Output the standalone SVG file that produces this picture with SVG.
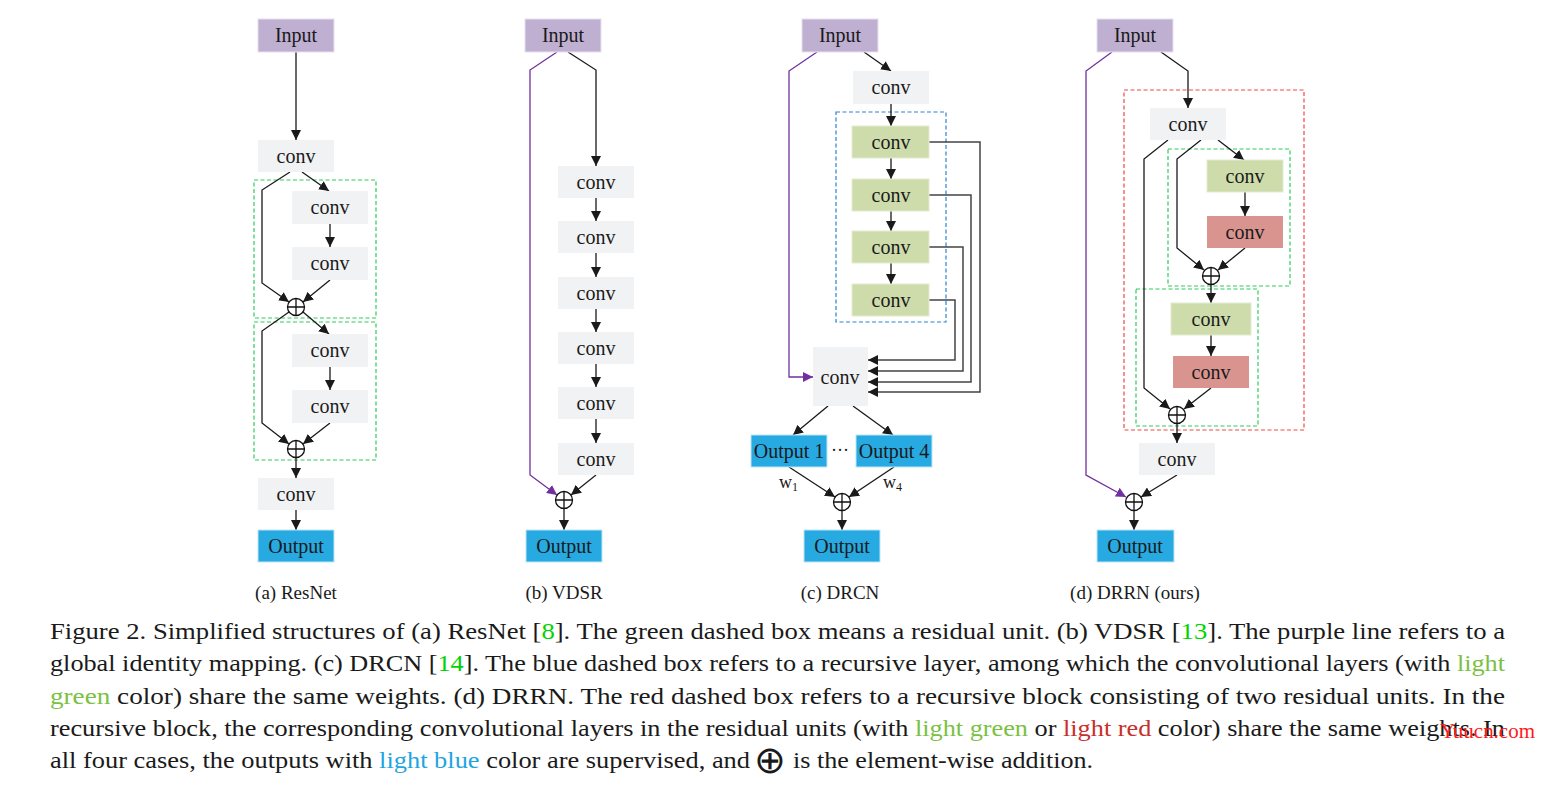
<svg xmlns="http://www.w3.org/2000/svg" width="1548" height="788" viewBox="0 0 1548 788">
<defs>
<marker id="ah" markerWidth="10" markerHeight="10" refX="10" refY="5" orient="auto" markerUnits="userSpaceOnUse"><path d="M0,0 L10,5 L0,10 z" fill="#1a1a1a"/></marker>
<marker id="ahp" markerWidth="10" markerHeight="10" refX="10" refY="5" orient="auto" markerUnits="userSpaceOnUse"><path d="M0,0 L10,5 L0,10 z" fill="#7030a0"/></marker>
</defs>
<style>
text{font-family:"Liberation Serif","Times New Roman",serif;fill:#1a1a1a}
.lbl{font-size:20px;text-anchor:middle}
.cv{font-size:20px;text-anchor:middle}
.in{fill:#bfafd0;stroke:#e6e0ee;stroke-width:1}
.gr{fill:#f1f2f3}
.gn{fill:#cddcaa;stroke:#e3ecd0;stroke-width:1}
.rd{fill:#d9948f}
.out{fill:#27a9e1;stroke:#bfe6f7;stroke-width:1}
.gd{fill:none;stroke:#2fcc5c;stroke-width:1.2;stroke-dasharray:4 2.5}
.bd{fill:none;stroke:#2a84d2;stroke-width:1.2;stroke-dasharray:4 2.5}
.rdd{fill:none;stroke:#f04848;stroke-width:1.2;stroke-dasharray:4 2.5}
.c{fill:none;stroke:#1a1a1a;stroke-width:1.3;marker-end:url(#ah)}
.fb{fill:none;stroke:#444;stroke-width:1.5;marker-end:url(#ah)}
.pp{fill:none;stroke:#7030a0;stroke-width:1.3;marker-end:url(#ahp)}
.pl circle{fill:#fff;stroke:#111;stroke-width:1.3}
.pl path{stroke:#111;stroke-width:1.3}
.cap{font-size:19px;text-anchor:middle}
.tx{font-size:24px}
.cite{fill:#00d400}
.lg{fill:#7ac143}
.lr{fill:#c8302c}
.lb{fill:#1ea5e0}
</style>
<rect width="1548" height="788" fill="#fff"/>

<!-- containers -->
<g id="boxes">
<rect class="gd" x="254" y="180" width="122" height="138"/>
<rect class="gd" x="254" y="322" width="122" height="138"/>
<rect class="bd" x="836" y="112" width="110" height="210"/>
<rect class="rdd" x="1124" y="90" width="180" height="340"/>
<rect class="gd" x="1168" y="149" width="122" height="137"/>
<rect class="gd" x="1136" y="289" width="122" height="137"/>
</g>

<!-- connectors -->
<g id="connectors">
<!-- (a) -->
<path class="c" d="M296,52 V140"/>
<path class="c" d="M290,172 L262,190 V283 L289,302"/>
<path class="c" d="M302,172 L329,191"/>
<path class="c" d="M330,224 V247"/>
<path class="c" d="M330,280 L303,302"/>
<path class="c" d="M289,312 L262,331 V423 L289,444"/>
<path class="c" d="M303,312 L329,334"/>
<path class="c" d="M330,367 V390"/>
<path class="c" d="M330,423 L303,444"/>
<path class="c" d="M296,457.5 V478"/>
<path class="c" d="M296,510 V530"/>
<!-- (b) -->
<path class="pp" d="M557,52 L530,70 V475 L557,495"/>
<path class="c" d="M568,52 L596,70 V166"/>
<path class="c" d="M596,198 V221"/>
<path class="c" d="M596,253 V277"/>
<path class="c" d="M596,309 V332"/>
<path class="c" d="M596,364 V387"/>
<path class="c" d="M596,419 V443"/>
<path class="c" d="M596,475 L571,495"/>
<path class="c" d="M564,508.5 V530"/>
<!-- (c) -->
<path class="pp" d="M817,52 L789,71 V377 H813"/>
<path class="c" d="M864,52 L891,71"/>
<path class="c" d="M891,104 V126"/>
<path class="c" d="M891,158 V179"/>
<path class="c" d="M891,211 V231"/>
<path class="c" d="M891,263 V284"/>
<path class="fb" d="M929,142 H980 V392 H868"/>
<path class="fb" d="M929,195 H971 V382 H868"/>
<path class="fb" d="M929,247 H963 V371 H868"/>
<path class="fb" d="M929,300 H955 V360 H868"/>
<path class="c" d="M828,406 L793,435"/>
<path class="c" d="M853,406 L893,435"/>
<path class="c" d="M789,467 L835,497"/>
<path class="c" d="M894,467 L849,497"/>
<path class="c" d="M842,510.5 V530"/>
<!-- (d) -->
<path class="pp" d="M1112,52 L1086,71 V475 L1126,497"/>
<path class="c" d="M1161,52 L1188,71 V108"/>
<path class="c" d="M1168,140 L1144,159 V388 L1170,409"/>
<path class="c" d="M1201,140 L1177,159 V248 L1204,270"/>
<path class="c" d="M1218,140 L1244,160"/>
<path class="c" d="M1245,192 V216"/>
<path class="c" d="M1245,248 L1218,270"/>
<path class="c" d="M1211,284.5 V303"/>
<path class="c" d="M1211,335 V356"/>
<path class="c" d="M1211,388 L1184,409"/>
<path class="c" d="M1177,423.5 V443"/>
<path class="c" d="M1177,475 L1141,497"/>
<path class="c" d="M1134,510.5 V530"/>
</g>

<!-- (a) ResNet nodes -->
<g id="a-input"><rect class="in" x="258" y="19" width="76" height="33"/><text class="lbl" x="296" y="42">Input</text></g>
<g id="a-conv1"><rect class="gr" x="258" y="140" width="76" height="32"/><text class="cv" x="296" y="163">conv</text></g>
<g id="a-conv2"><rect class="gr" x="292" y="191" width="76" height="33"/><text class="cv" x="330" y="214">conv</text></g>
<g id="a-conv3"><rect class="gr" x="292" y="247" width="76" height="33"/><text class="cv" x="330" y="270">conv</text></g>
<g id="a-plus1" class="pl"><circle cx="296" cy="307" r="8.5"/><path d="M287.5,307 H304.5 M296,298.5 V315.5"/></g>
<g id="a-conv4"><rect class="gr" x="292" y="334" width="76" height="33"/><text class="cv" x="330" y="357">conv</text></g>
<g id="a-conv5"><rect class="gr" x="292" y="390" width="76" height="33"/><text class="cv" x="330" y="413">conv</text></g>
<g id="a-plus2" class="pl"><circle cx="296" cy="449" r="8.5"/><path d="M287.5,449 H304.5 M296,440.5 V457.5"/></g>
<g id="a-conv6"><rect class="gr" x="258" y="478" width="76" height="32"/><text class="cv" x="296" y="501">conv</text></g>
<g id="a-output"><rect class="out" x="258" y="530" width="76" height="32"/><text class="lbl" x="296" y="553">Output</text></g>

<!-- (b) VDSR nodes -->
<g id="b-input"><rect class="in" x="525" y="19" width="76" height="33"/><text class="lbl" x="563" y="42">Input</text></g>
<g id="b-conv1"><rect class="gr" x="558" y="166" width="76" height="32"/><text class="cv" x="596" y="189">conv</text></g>
<g id="b-conv2"><rect class="gr" x="558" y="221" width="76" height="32"/><text class="cv" x="596" y="244">conv</text></g>
<g id="b-conv3"><rect class="gr" x="558" y="277" width="76" height="32"/><text class="cv" x="596" y="300">conv</text></g>
<g id="b-conv4"><rect class="gr" x="558" y="332" width="76" height="32"/><text class="cv" x="596" y="355">conv</text></g>
<g id="b-conv5"><rect class="gr" x="558" y="387" width="76" height="32"/><text class="cv" x="596" y="410">conv</text></g>
<g id="b-conv6"><rect class="gr" x="558" y="443" width="76" height="32"/><text class="cv" x="596" y="466">conv</text></g>
<g id="b-plus" class="pl"><circle cx="564" cy="500" r="8.5"/><path d="M555.5,500 H572.5 M564,491.5 V508.5"/></g>
<g id="b-output"><rect class="out" x="526" y="530" width="76" height="32"/><text class="lbl" x="564" y="553">Output</text></g>

<!-- (c) DRCN nodes -->
<g id="c-input"><rect class="in" x="802" y="19" width="76" height="33"/><text class="lbl" x="840" y="42">Input</text></g>
<g id="c-conv0"><rect class="gr" x="853" y="71" width="76" height="33"/><text class="cv" x="891" y="94">conv</text></g>
<g id="c-conv1"><rect class="gn" x="852" y="126" width="77" height="32"/><text class="cv" x="891" y="149">conv</text></g>
<g id="c-conv2"><rect class="gn" x="852" y="179" width="77" height="32"/><text class="cv" x="891" y="202">conv</text></g>
<g id="c-conv3"><rect class="gn" x="852" y="231" width="77" height="32"/><text class="cv" x="891" y="254">conv</text></g>
<g id="c-conv4"><rect class="gn" x="852" y="284" width="77" height="32"/><text class="cv" x="891" y="307">conv</text></g>
<g id="c-convr"><rect class="gr" x="813" y="347" width="55" height="59"/><text class="cv" x="840" y="384">conv</text></g>
<g id="c-out1"><rect class="out" x="751" y="435" width="76" height="32"/><text class="lbl" x="789" y="458">Output 1</text></g>
<g id="c-dots"><text class="lbl" x="840" y="456" style="font-size:18px">···</text></g>
<g id="c-out4"><rect class="out" x="856" y="435" width="76" height="32"/><text class="lbl" x="894" y="458">Output 4</text></g>
<g id="c-w1"><text x="779" y="488" style="font-size:18px">w<tspan dy="3" style="font-size:12px">1</tspan></text></g>
<g id="c-w4"><text x="883" y="488" style="font-size:18px">w<tspan dy="3" style="font-size:12px">4</tspan></text></g>
<g id="c-plus" class="pl"><circle cx="842" cy="502" r="8.5"/><path d="M833.5,502 H850.5 M842,493.5 V510.5"/></g>
<g id="c-output"><rect class="out" x="804" y="530" width="76" height="32"/><text class="lbl" x="842" y="553">Output</text></g>

<!-- (d) DRRN nodes -->
<g id="d-input"><rect class="in" x="1097" y="19" width="76" height="33"/><text class="lbl" x="1135" y="42">Input</text></g>
<g id="d-conv0"><rect class="gr" x="1150" y="108" width="76" height="32"/><text class="cv" x="1188" y="131">conv</text></g>
<g id="d-conv1"><rect class="gn" x="1207" y="160" width="76" height="32"/><text class="cv" x="1245" y="183">conv</text></g>
<g id="d-conv2"><rect class="rd" x="1207" y="216" width="76" height="32"/><text class="cv" x="1245" y="239">conv</text></g>
<g id="d-plus1" class="pl"><circle cx="1211" cy="276" r="8.5"/><path d="M1202.5,276 H1219.5 M1211,267.5 V284.5"/></g>
<g id="d-conv3"><rect class="gn" x="1171" y="303" width="80" height="32"/><text class="cv" x="1211" y="326">conv</text></g>
<g id="d-conv4"><rect class="rd" x="1173" y="356" width="76" height="32"/><text class="cv" x="1211" y="379">conv</text></g>
<g id="d-plus2" class="pl"><circle cx="1177" cy="415" r="8.5"/><path d="M1168.5,415 H1185.5 M1177,406.5 V423.5"/></g>
<g id="d-conv5"><rect class="gr" x="1139" y="443" width="76" height="32"/><text class="cv" x="1177" y="466">conv</text></g>
<g id="d-plus3" class="pl"><circle cx="1134" cy="502" r="8.5"/><path d="M1125.5,502 H1142.5 M1134,493.5 V510.5"/></g>
<g id="d-output"><rect class="out" x="1097" y="530" width="77" height="32"/><text class="lbl" x="1135" y="553">Output</text></g>

<!-- sub-captions -->
<g id="subcaptions">
<text class="cap" x="296" y="599">(a) ResNet</text>
<text class="cap" x="564" y="599">(b) VDSR</text>
<text class="cap" x="840" y="599">(c) DRCN</text>
<text class="cap" x="1135" y="599">(d) DRRN (ours)</text>
</g>

<!-- caption -->
<g id="caption" class="tx">
<text class="tx" x="50" y="639" textLength="1455" lengthAdjust="spacingAndGlyphs">Figure 2. Simplified structures of (a) ResNet [<tspan class="cite">8</tspan>]. The green dashed box means a residual unit. (b) VDSR [<tspan class="cite">13</tspan>]. The purple line refers to a</text>
<text class="tx" x="50" y="671" textLength="1455" lengthAdjust="spacingAndGlyphs">global identity mapping. (c) DRCN [<tspan class="cite">14</tspan>]. The blue dashed box refers to a recursive layer, among which the convolutional layers (with <tspan class="lg">light</tspan></text>
<text class="tx" x="50" y="704" textLength="1455" lengthAdjust="spacingAndGlyphs"><tspan class="lg">green</tspan> color) share the same weights. (d) DRRN. The red dashed box refers to a recursive block consisting of two residual units. In the</text>
<text class="tx" x="50" y="736" textLength="1455" lengthAdjust="spacingAndGlyphs">recursive block, the corresponding convolutional layers in the residual units (with <tspan class="lg">light green</tspan> or <tspan class="lr">light red</tspan> color) share the same weights. In</text>
<text class="tx" x="50" y="768" textLength="700" lengthAdjust="spacingAndGlyphs">all four cases, the outputs with <tspan class="lb">light blue</tspan> color are supervised, and</text>
<text x="770" y="773" style="font-family:'DejaVu Sans',sans-serif;font-size:38px;text-anchor:middle;font-weight:300">⊕</text>
<text class="tx" x="793" y="768" textLength="300" lengthAdjust="spacingAndGlyphs">is the element-wise addition.</text>
</g>

<g id="watermark"><text x="1440" y="738" textLength="95" lengthAdjust="spacingAndGlyphs" style="font-size:20px;fill:#ff1a1a">Yuucn.com</text></g>
</svg>
